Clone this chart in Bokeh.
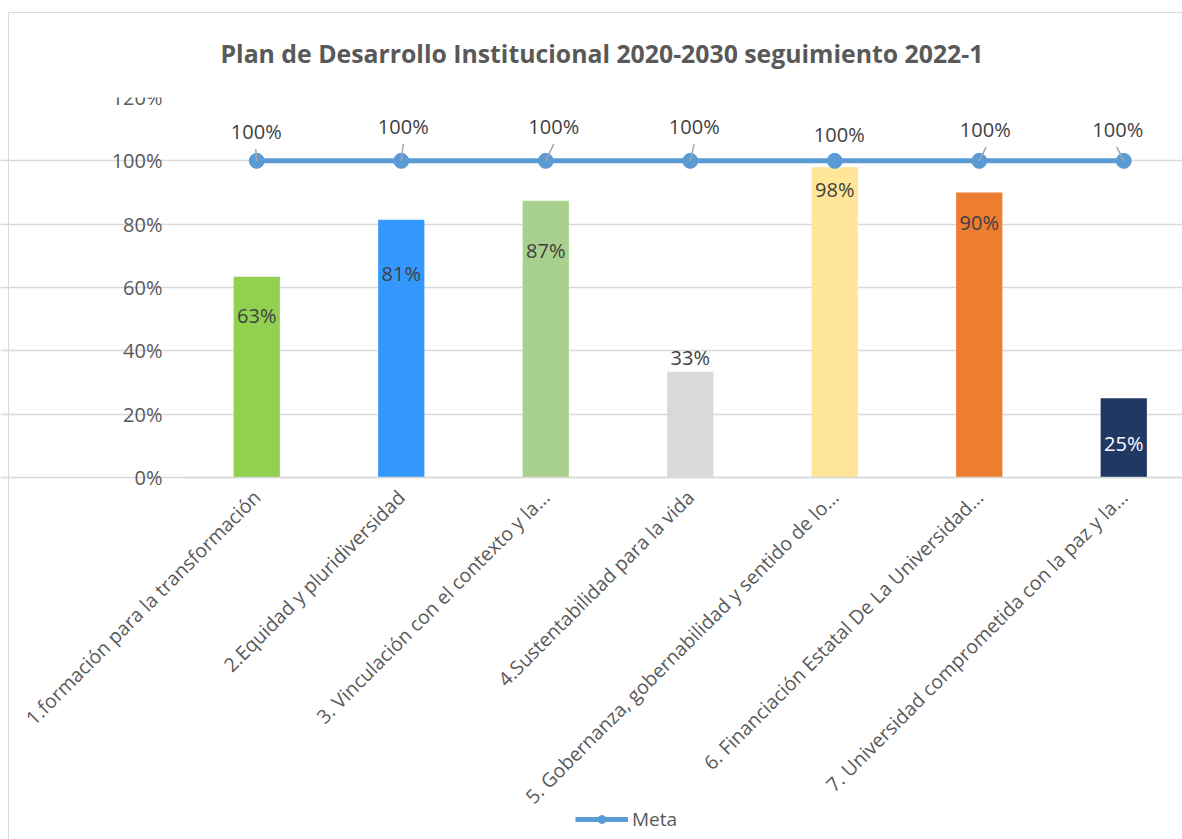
import math
from bokeh.plotting import figure
from bokeh.models import ColumnDataSource, Range1d, FixedTicker, Legend, LegendItem
from bokeh.embed import file_html
from bokeh.resources import INLINE
from bokeh.core.properties import value

# ---------------- data ----------------
categories = [
    "1.formación para la transformación",
    "2.Equidad y pluridiversidad",
    "3. Vinculación con el contexto y la...",
    "4.Sustentabilidad para la vida",
    "5. Gobernanza, gobernabilidad y sentido de lo...",
    "6. Financiación Estatal De La Universidad...",
    "7. Universidad comprometida con la paz y la...",
]
avance = [0.634, 0.814, 0.874, 0.334, 0.98, 0.90, 0.25]
meta = [1.0, 1.0, 1.0, 1.0, 1.0, 1.0, 1.0]
y_ticks = [0.0, 0.2, 0.4, 0.6, 0.8, 1.0, 1.2]
y_tick_labels = ["0%", "20%", "40%", "60%", "80%", "100%", "120%"]
title_text = "Plan de Desarrollo Institucional 2020-2030 seguimiento 2022-1"
series_name = "Meta"

# ---------------- style ----------------
FONT = "Open Sans"
bar_colors = ["#92D050", "#3399FF", "#A9D18E", "#D9D9D9", "#FFE699", "#ED7D31", "#203864"]
bar_label_colors = ["#404040"] * 6 + ["#FFFFFF"]
bar_label_dy = [39, 54, 50, -14, 22, 30, 45]          # px, positive = down
meta_label_dx = [-0.5, 2, 8, 4, 4.5, 6, -6]
meta_label_dy = [-29, -34, -34, -34, -26, -31, -31]
leader_dx = [-1, 2, 8, 4, None, 7, -7]
leader_dy = [12, 17, 17, 17, None, 14, 14]

PX_PER_X = 144.5
PLOT_LEFT = 184          # where the plotting area (gridlines) starts
PLOT_W = 998
FRAME_W = PLOT_LEFT + PLOT_W
FRAME_H = 742            # frame reaches the bottom of the page; axes drawn at fixed spots
PX_PER_Y = 316.7 / 1.0
Y_TOP = 1.2

xs = list(range(len(categories)))
X_START = -0.5
X_END = X_START + PLOT_W / PX_PER_X

p = figure(
    frame_width=FRAME_W, frame_height=FRAME_H,
    output_backend="svg", toolbar_location=None,
    x_range=Range1d(X_START - PLOT_LEFT / PX_PER_X, X_END),
    y_range=Range1d(Y_TOP - FRAME_H / PX_PER_Y, Y_TOP),
    min_border_left=0, min_border_right=0, min_border_top=97, min_border_bottom=0,
)
p.styles = {
    "background": "linear-gradient(#D9D9D9,#D9D9D9) 8px 12px / 1px 100% no-repeat, "
                  "linear-gradient(#D9D9D9,#D9D9D9) 8px 12px / 100% 1px no-repeat, white",
}
p.outline_line_color = None
p.background_fill_color = None
p.border_fill_color = None

p.title.text = title_text
p.title.text_font = FONT
p.title.text_font_size = "24.8px"
p.title.text_font_style = "bold"
p.title.text_color = "#595959"
p.title.align = "left"
p.title.offset = PLOT_LEFT + 36
p.title.standoff = 55

# bars
bar_src = ColumnDataSource(dict(
    x=xs, top=avance, color=bar_colors,
    label=[f"{round(v * 100)}%" for v in avance],
    lcolor=bar_label_colors, dy=bar_label_dy,
))
p.vbar(x="x", top="top", bottom=0, width=0.32, fill_color="color", line_color=None, source=bar_src)
p.text(x="x", y="top", text="label", y_offset="dy", text_color="lcolor",
       text_align="center", text_baseline="middle",
       text_font=value(FONT), text_font_size="20px", source=bar_src)

# meta line
line_r = p.line(xs, meta, line_width=5, line_color="#5B9BD5")
dot_r = p.scatter(xs, meta, size=15, fill_color="#5B9BD5", line_color="#5B9BD5")

# leader lines
lx0, ly0, lx1, ly1 = [], [], [], []
for i, (dx, dy) in enumerate(zip(leader_dx, leader_dy)):
    if dx is None:
        continue
    lx0.append(xs[i]); ly0.append(meta[i])
    lx1.append(xs[i] + dx / PX_PER_X); ly1.append(meta[i] + dy / PX_PER_Y)
p.segment(x0=lx0, y0=ly0, x1=lx1, y1=ly1, line_color="#A6A6A6", line_width=1.5)

meta_src = ColumnDataSource(dict(
    x=xs, y=meta, label=[f"{round(v * 100)}%" for v in meta],
    dx=meta_label_dx, dy=meta_label_dy,
))
p.text(x="x", y="y", text="label", x_offset="dx", y_offset="dy", text_color="#404040",
       text_align="center", text_baseline="middle",
       text_font=value(FONT), text_font_size="20px", source=meta_src)

# axes
p.xaxis.fixed_location = 0
p.xaxis.bounds = (X_START, X_END)
p.xaxis.ticker = FixedTicker(ticks=xs)
p.xaxis.major_label_overrides = {i: c for i, c in zip(xs, categories)}
p.xaxis.major_label_orientation = math.pi / 4
p.xaxis.major_label_text_font = FONT
p.xaxis.major_label_text_font_size = "19.5px"
p.xaxis.major_label_text_color = "#595959"
p.xaxis.major_label_standoff = 16
p.xaxis.axis_line_color = "#D9D9D9"
p.xaxis.axis_line_width = 1.5
p.xaxis.major_tick_line_color = None
p.xaxis.major_tick_out = 0
p.xaxis.major_tick_in = 0
p.xaxis.minor_tick_line_color = None
p.xaxis.minor_tick_out = 0
p.xaxis.minor_tick_in = 0

p.yaxis.fixed_location = X_START
p.yaxis.bounds = (0, Y_TOP)
p.yaxis.ticker = FixedTicker(ticks=y_ticks)
p.yaxis.major_label_overrides = {t: l for t, l in zip(y_ticks, y_tick_labels)}
p.yaxis.major_label_text_font = FONT
p.yaxis.major_label_text_font_size = "20px"
p.yaxis.major_label_text_color = "#595959"
p.yaxis.major_label_standoff = 22
p.yaxis.axis_line_color = None
p.yaxis.major_tick_line_color = None
p.yaxis.major_tick_out = 0
p.yaxis.major_tick_in = 0
p.yaxis.minor_tick_line_color = None
p.yaxis.minor_tick_out = 0
p.yaxis.minor_tick_in = 0

p.xgrid.grid_line_color = None
p.ygrid.grid_line_color = "#D9D9D9"
p.ygrid.grid_line_width = 1.5
p.ygrid.bounds = (X_START, X_END)

legend = Legend(
    items=[LegendItem(label=series_name, renderers=[line_r, dot_r])],
    location=(575, 7),
    orientation="horizontal",
    label_text_font=FONT, label_text_font_size="19px", label_text_color="#595959",
    glyph_width=53, glyph_height=20, padding=0, margin=0, spacing=0,
    label_standoff=4, label_height=20,
    background_fill_alpha=0, border_line_color=None,
)
p.add_layout(legend, "center")

open("out.html", "w").write(file_html(p, INLINE))
